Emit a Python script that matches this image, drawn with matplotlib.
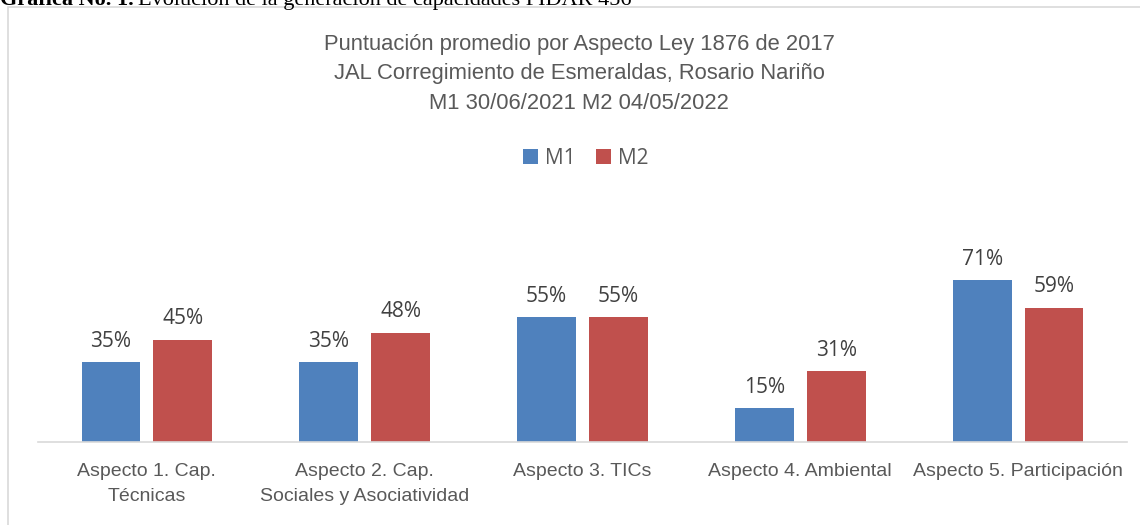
import matplotlib.pyplot as plt
from matplotlib.patches import Rectangle

categorias = ["Aspecto 1. Cap.\nTécnicas", "Aspecto 2. Cap.\nSociales y Asociatividad",
              "Aspecto 3. TICs", "Aspecto 4. Ambiental", "Aspecto 5. Participación"]
m1 = [35, 35, 55, 15, 71]
m2 = [45, 48, 55, 31, 59]
series = ["M1", "M2"]

azul = "#4F81BD"
rojo = "#C0504D"
gris = "#595959"

fig = plt.figure(figsize=(11.4, 5.25), dpi=100)

# marco del grafico
fig.patches.append(Rectangle((8 / 1140, -0.1), 1.2, 1.1 - 7 / 525, transform=fig.transFigure,
                             fill=False, edgecolor="#D9D9D9", linewidth=1.2))

# leyenda superior recortada del documento
t1 = fig.text(0.0, 1 - 5 / 525, "Gráfica No. 1.", fontsize=16, fontweight="bold",
              family="Liberation Serif", va="baseline", ha="left")
fig.canvas.draw()
x_fin = t1.get_window_extent().x1 / 1140 + 0.004
fig.text(x_fin, 1 - 5 / 525, "Evolución de la generación de capacidades PIDAR 456", fontsize=16,
         family="Liberation Serif", va="baseline", ha="left")

ax = fig.add_axes([38 / 1140, 1 - 442 / 525, (1127 - 38) / 1140, 0.347])
x = list(range(len(categorias)))
w = 0.27
off = 0.165
b1 = ax.bar([i - off for i in x], m1, w, color=azul, label=series[0])
b2 = ax.bar([i + off for i in x], m2, w, color=rojo, label=series[1])

for bars, vals in ((b1, m1), (b2, m2)):
    for b, v in zip(bars, vals):
        ax.text(b.get_x() + b.get_width() / 2, v + 4.5, f"{v}%", ha="center", va="bottom",
                fontsize=15, color="#404040", family="Open Sans")

ax.set_xlim(-0.5, len(categorias) - 0.5)
ax.set_ylim(0, 80)
ax.set_yticks([])
ax.set_xticks(x)
ax.set_xticklabels(categorias, fontsize=14, color=gris, family="Liberation Sans", linespacing=1.65)
ax.tick_params(axis="x", length=0, pad=15)
for s in ["top", "right", "left"]:
    ax.spines[s].set_visible(False)
ax.spines["bottom"].set_color("#D9D9D9")
ax.spines["bottom"].set_linewidth(1.2)

fig.text(0.508, 1 - 74 / 525, "Puntuación promedio por Aspecto Ley 1876 de 2017\n"
         "JAL Corregimiento de Esmeraldas, Rosario Nariño\nM1 30/06/2021 M2 04/05/2022",
         ha="center", va="center", fontsize=15.8, color=gris, family="Liberation Sans",
         linespacing=1.55)

fig.legend(handles=[b1, b2], labels=series, loc="center", bbox_to_anchor=(0.514, 1 - 158 / 525),
           ncol=2, frameon=False, prop={"family": "Open Sans", "size": 15},
           handlelength=0.7, handleheight=0.7, handletextpad=0.35, columnspacing=1.0,
           labelcolor=gris)

fig.savefig("out.png", dpi=100)
